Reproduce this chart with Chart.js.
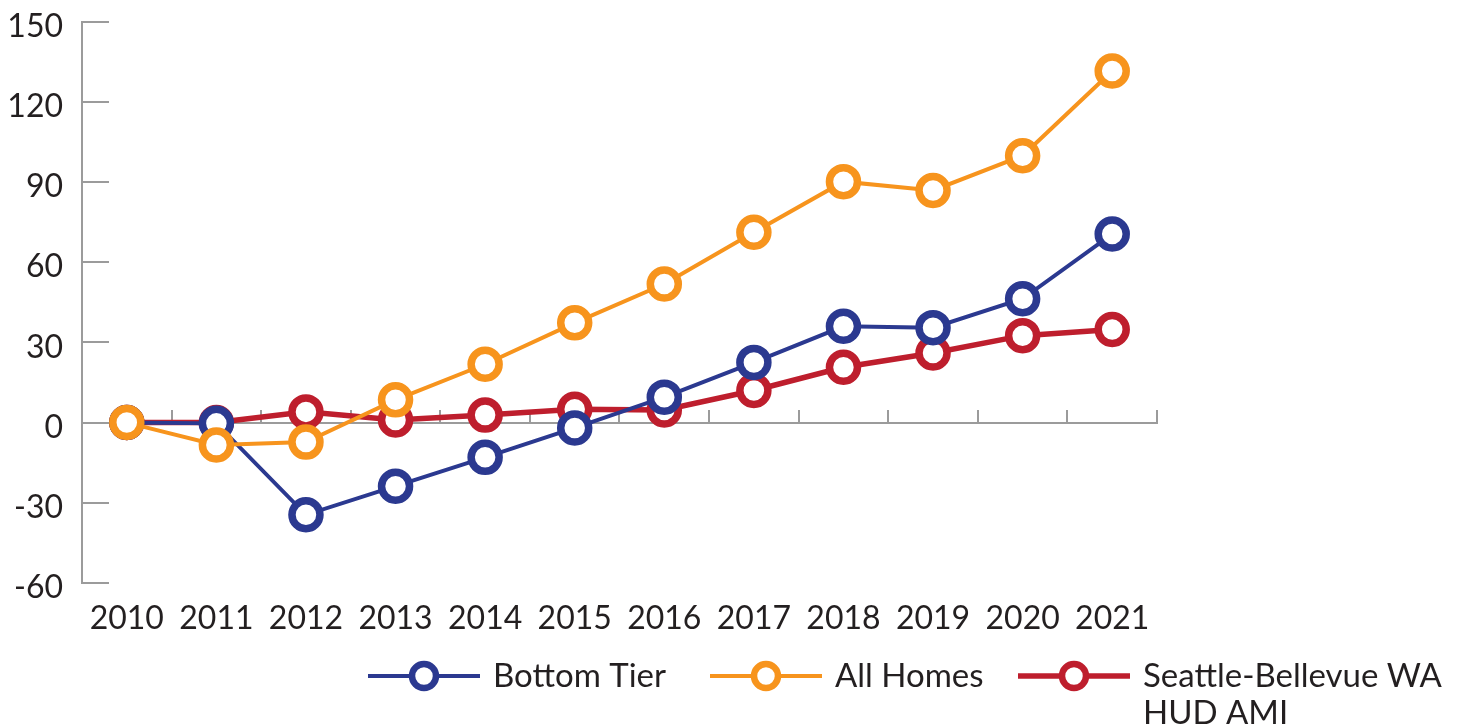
<!DOCTYPE html>
<html>
<head>
<meta charset="utf-8">
<script src="https://cdn.jsdelivr.net/npm/chart.js@4/dist/chart.umd.min.js"></script>
<style>
  html, body { margin: 0; padding: 0; background: #fff; }
  #wrap { width: 1465px; height: 727px; }
</style>
</head>
<body>
<div id="wrap"><canvas id="priceChart" width="1465" height="727"></canvas></div>
<script>
// chart values
const years = ['2010', '2011', '2012', '2013', '2014', '2015', '2016', '2017', '2018', '2019', '2020', '2021'];
const bottomTier = [0, -0.3, -34.5, -23.8, -13, -2, 9.5, 22.5, 36, 35.5, 46.3, 70.5];
const allHomes = [0, -8.4, -7.3, 8.5, 21.8, 37.3, 51.8, 71.2, 90.1, 86.8, 99.8, 131.5];
const seattleAmi = [0, 0, 4, 1, 2.8, 5, 4.7, 12, 20.7, 26, 32.5, 34.8];
const yTicks = [-60, -30, 0, 30, 60, 90, 120, 150];

const FONT = 'Lato, "Open Sans", sans-serif';
const TEXT = '#231f20';
const AXIS = '#9b9b9b';

const ctx = document.getElementById('priceChart').getContext('2d');

// axis line along zero, inward tick marks
const axisPlugin = {
    id: 'axisPlugin',
    beforeDatasetsDraw(chart) {
        const c = chart.ctx;
        const x = chart.scales.x;
        const y = chart.scales.y;
        const area = chart.chartArea;
        c.save();
        c.strokeStyle = AXIS;
        c.lineWidth = 2;
        // y ticks pointing into the plot
        yTicks.forEach(v => {
            const py = Math.round(y.getPixelForValue(v));
            c.beginPath();
            c.moveTo(area.left, py);
            c.lineTo(area.left + 27, py);
            c.stroke();
        });
        // zero line
        const y0 = Math.round(y.getPixelForValue(0));
        c.beginPath();
        c.moveTo(area.left, y0);
        c.lineTo(area.right, y0);
        c.stroke();
        // category boundary ticks, upward
        const step = x.getPixelForTick(1) - x.getPixelForTick(0);
        for (let i = 0; i < years.length; i++) {
            const px = Math.round(x.getPixelForTick(i) + step / 2);
            c.beginPath();
            c.moveTo(px, y0 + 1);
            c.lineTo(px, y0 - 13);
            c.stroke();
        }
        c.restore();
    }
};

// legend under the chart: short line with ring, then label
const legendPlugin = {
    id: 'legendPlugin',
    afterDraw(chart) {
        const c = chart.ctx;
        const items = [
            { ds: 0, x: 368, lines: ['Bottom Tier'] },
            { ds: 1, x: 710, lines: ['All Homes'] },
            { ds: 2, x: 1018, lines: ['Seattle-Bellevue WA', 'HUD AMI'] }
        ];
        const ly = 676;
        c.save();
        items.forEach(it => {
            const d = chart.data.datasets[it.ds];
            c.strokeStyle = d.borderColor;
            c.lineWidth = d.borderWidth;
            c.beginPath();
            c.moveTo(it.x, ly);
            c.lineTo(it.x + 112, ly);
            c.stroke();
            c.beginPath();
            c.arc(it.x + 56, ly, 12, 0, Math.PI * 2);
            c.fillStyle = '#fff';
            c.fill();
            c.lineWidth = 6.5;
            c.stroke();
            c.fillStyle = TEXT;
            c.font = '33px ' + FONT;
            c.textBaseline = 'middle';
            c.textAlign = 'left';
            it.lines.forEach((t, k) => c.fillText(t, it.x + 125, ly + k * 37));
        });
        c.restore();
    }
};

function series(label, data, color, width, order) {
    return {
        label: label,
        data: data,
        borderColor: color,
        borderWidth: width,
        pointRadius: 14,
        pointHoverRadius: 14,
        pointBorderWidth: 7.5,
        pointBackgroundColor: '#fff',
        pointBorderColor: color,
        fill: false,
        tension: 0,
        order: order
    };
}

new Chart(ctx, {
    type: 'line',
    data: {
        labels: years,
        datasets: [
            series('Bottom Tier', bottomTier, '#2b3990', 4, 1),
            series('All Homes', allHomes, '#f7941d', 4, 0),
            series('Seattle-Bellevue WA HUD AMI', seattleAmi, '#be1e2d', 5.5, 2)
        ]
    },
    options: {
        responsive: false,
        animation: false,
        layout: { padding: { top: 18, right: 308, left: 0, bottom: 0 } },
        plugins: {
            legend: { display: false },
            tooltip: { enabled: false }
        },
        scales: {
            x: {
                offset: true,
                grid: { display: false, drawTicks: false },
                border: { display: false },
                ticks: {
                    color: TEXT,
                    font: { family: FONT, size: 32 },
                    padding: 16,
                    maxRotation: 0,
                    autoSkip: false
                },
                afterFit(scale) {
                    scale.height = 144;
                    scale.paddingLeft = 0;
                    scale.paddingRight = 0;
                }
            },
            y: {
                min: -60,
                max: 150,
                afterBuildTicks(scale) { scale.ticks = yTicks.map(v => ({ value: v })); },
                grid: { display: true, drawOnChartArea: false, drawTicks: false },
                border: { display: true, color: AXIS, width: 2 },
                ticks: {
                    color: TEXT,
                    font: { family: FONT, size: 32 },
                    padding: 19,
                    labelOffset: 5
                },
                afterFit(scale) {
                    scale.width = 82;
                    scale.paddingTop = 0;
                    scale.paddingBottom = 0;
                }
            }
        }
    },
    plugins: [axisPlugin, legendPlugin]
});
</script>
</body>
</html>
